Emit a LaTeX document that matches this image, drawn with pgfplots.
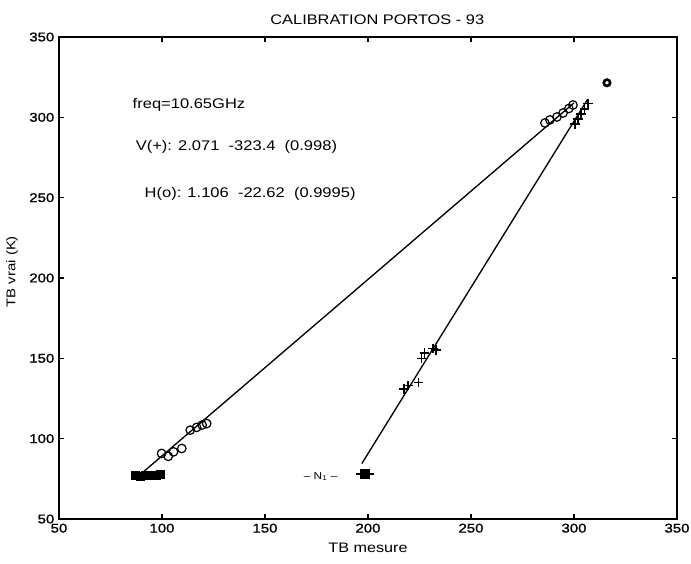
\documentclass[border=0pt]{standalone}
\usepackage{fontspec}
\setmainfont{Liberation Sans}[FakeStretch=1.18]
\newfontfamily\tickfont{Liberation Sans}[FakeStretch=1.18, FakeBold=1.2]
\usepackage{pgfplots}
\pgfplotsset{compat=1.18}
\begin{document}
\begin{tikzpicture}[x=1pt,y=1pt]
\path[use as bounding box] (-44.25,-33) rectangle (474,389.25);
\begin{axis}[
  at={(0,0)}, anchor=south west, scale only axis,
  width=463.5pt, height=361.5pt,
  xmin=50, xmax=350, ymin=50, ymax=350,
  xtick={50,100,...,350}, ytick={50,100,...,350},
  tick align=inside, major tick length=4pt,
  xtick pos=both, ytick pos=both,
  xticklabel pos=lower, yticklabel pos=left,
  axis line style={line width=1.1pt},
  every tick/.style={black, line width=0.8pt},
  tick label style={font=\tickfont\fontsize{9.5}{11}\selectfont},
  /pgf/number format/assume math mode=true,
  clip=false,
]
% H(o) fit line
\addplot[black, line width=1pt] coordinates {(87,75) (300,309)};
% V(+) fit line
\addplot[black, line width=1pt] coordinates {(197,84.5) (306.5,311)};
% H(o) circles
\addplot[only marks, mark=o, mark size=3.2pt, mark options={line width=0.9pt}] coordinates {
(99.8,90.8)(103,89)(105.6,91.8)(109.6,93.9)(113.7,105.3)(116.8,107)(119.5,108.5)(121.7,109.4)
(285.9,296.5)(288.3,298.4)(291.7,300.2)(294.7,302.7)(297.5,305.5)(299.5,307.7)};
% isolated point
\addplot[only marks, mark=o, mark size=2.4pt, mark options={line width=2pt}] coordinates {(316,321.5)};
% H N1 cluster
\addplot[only marks, mark=square*, mark size=3pt] coordinates {
(87,77)(89.5,76.5)(92,77)(94.5,77)(97,77.5)(99,78)};
% V(+) crosses
\addplot[only marks, mark=+, mark size=3.6pt, mark options={line width=1.2pt}] coordinates {
(217.5,131)(219.5,133)(224.5,135)(226,150)(227.5,153.5)(231.5,156)(233,155)
(300.5,296)(302,299)(303.5,302)(305,305)(306.8,308.5)};
% V N1 cluster
\addplot[only marks, mark=square*, mark size=3.2pt] coordinates {(198.5,78)};
\addplot[only marks, mark=+, mark size=3.6pt, mark options={line width=1.2pt}] coordinates {(196.5,78)(200.5,78)};
% annotations
\node[anchor=base west, font=\fontsize{10.5}{12}\selectfont] at (axis cs:83.5,305.3) {freq=10.65GHz};
\node[anchor=base west, font=\fontsize{10.5}{12}\selectfont] at (axis cs:85,279.2) {V(+): 2.071\ \ -323.4\ \ (0.998)};
\node[anchor=base west, font=\fontsize{10.5}{12}\selectfont] at (axis cs:89.3,250) {H(o): 1.106\ \ -22.62\ \ (0.9995)};
\node[font=\fontsize{7.5}{9}\selectfont] at (axis cs:177,76.5) {-- N\textsubscript{1} --};
% title and labels
\node[yshift=12.75pt, font=\fontsize{10.4}{12}\selectfont] at (rel axis cs:0.515,1) {CALIBRATION PORTOS - 93};
\node[yshift=-22pt, font=\fontsize{10.3}{12}\selectfont] at (rel axis cs:0.5,0) {TB mesure};
\node[xshift=-35.25pt, rotate=90, font=\fontsize{9.5}{11}\selectfont] at (rel axis cs:0,0.513) {TB vrai (K)};
\end{axis}
\end{tikzpicture}
\end{document}
